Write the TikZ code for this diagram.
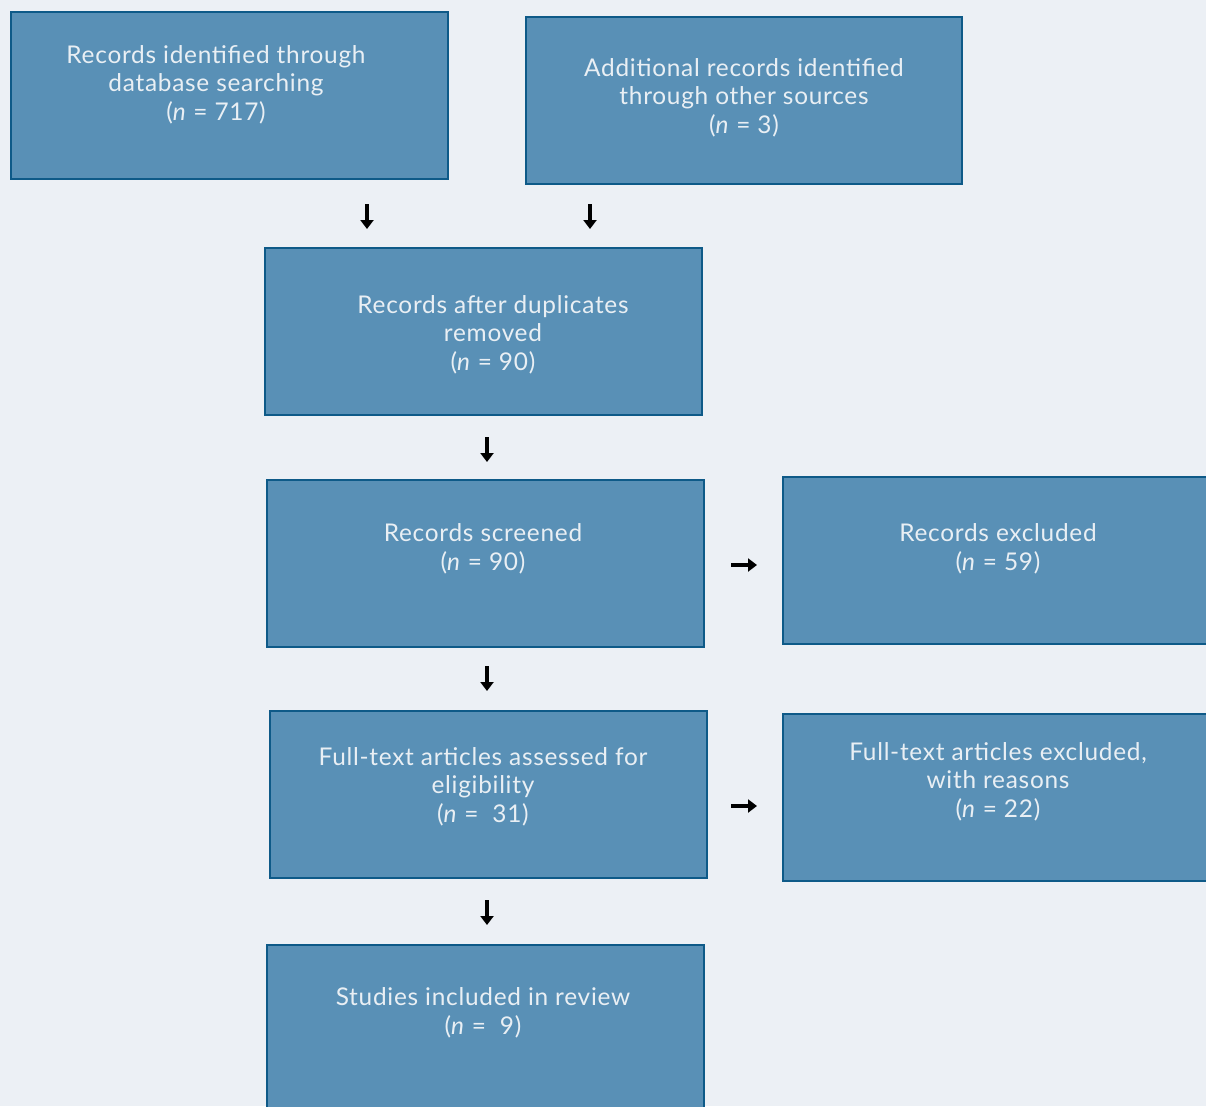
\documentclass[tikz,border=0pt]{standalone}
\usepackage{fontspec}
\setmainfont[LetterSpace=3]{Lato}
\usetikzlibrary{arrows.meta}
\definecolor{bgc}{HTML}{ECF0F5}
\definecolor{boxfill}{HTML}{5990B6}
\definecolor{boxline}{HTML}{0E5A88}
\definecolor{boxtext}{HTML}{E9EFF4}
\tikzset{
  box/.style={draw=boxline, fill=boxfill, line width=2.8pt, rectangle, minimum height=167pt, inner sep=0pt},
  boxw/.style={minimum width=437pt},
  txt/.style={text=boxtext, align=center, font=\fontsize{24.4}{28.5}\selectfont, inner sep=0pt},
  arr/.style={line width=3.4pt, -{Triangle[length=9pt,width=13pt]}, black}
}
\begin{document}
\begin{tikzpicture}[x=1pt,y=-1pt]
\useasboundingbox (0,0) rectangle (1206,1106);
\clip (0,0) rectangle (1206,1106);
\fill[bgc] (0,0) rectangle (1206,1106);

\node[box,boxw] (b1) at (229.5,95.5) {};
\node[box,minimum width=436pt] (b2) at (744,100.5) {};
\node[box,boxw] (b3) at (483.5,331.5) {};
\node[box,boxw] (b4) at (485.5,563.5) {};
\node[box,minimum width=447pt] (b5) at (1006.5,560.5) {};
\node[box,boxw] (b6) at (488.5,794.5) {};
\node[box,minimum width=447pt] (b7) at (1006.5,797.5) {};
\node[box,boxw] (b8) at (485.5,1028.5) {};

\node[txt] (t1) at (216,84.5) {Records identified through\\database searching\\(\textit{n} = 717)};
\node[txt] (t2) at (744,97.5) {Additional records identified\\through other sources\\(\textit{n} = 3)};
\node[txt] (t3) at (493,334.5) {Records after duplicates\\removed\\(\textit{n} = 90)};
\node[txt] (t4) at (483,549) {Records screened\\(\textit{n} = 90)};
\node[txt] (t5) at (998,549) {Records excluded\\(\textit{n} = 59)};
\node[txt] (t6) at (483,786.5) {Full-text articles assessed for\\eligibility\\(\textit{n} =\ \ 31)};
\node[txt] (t7) at (998,781.5) {Full-text articles excluded,\\with reasons\\(\textit{n} = 22)};
\node[txt] (t8) at (483,1013) {Studies included in review\\(\textit{n} =\ \ 9)};

\coordinate (a1s) at (367,204); \coordinate (a1e) at (367,229);
\coordinate (a2s) at (590,204); \coordinate (a2e) at (590,229);
\coordinate (a3s) at (487,437); \coordinate (a3e) at (487,462);
\coordinate (a4s) at (487,666); \coordinate (a4e) at (487,691);
\coordinate (a5s) at (487,900); \coordinate (a5e) at (487,925);
\coordinate (a6s) at (731,565); \coordinate (a6e) at (757,565);
\coordinate (a7s) at (731,806); \coordinate (a7e) at (757,806);

\draw[arr] (a1s) -- (a1e);
\draw[arr] (a2s) -- (a2e);
\draw[arr] (a3s) -- (a3e);
\draw[arr] (a4s) -- (a4e);
\draw[arr] (a5s) -- (a5e);
\draw[arr] (a6s) -- (a6e);
\draw[arr] (a7s) -- (a7e);
\end{tikzpicture}
\end{document}
